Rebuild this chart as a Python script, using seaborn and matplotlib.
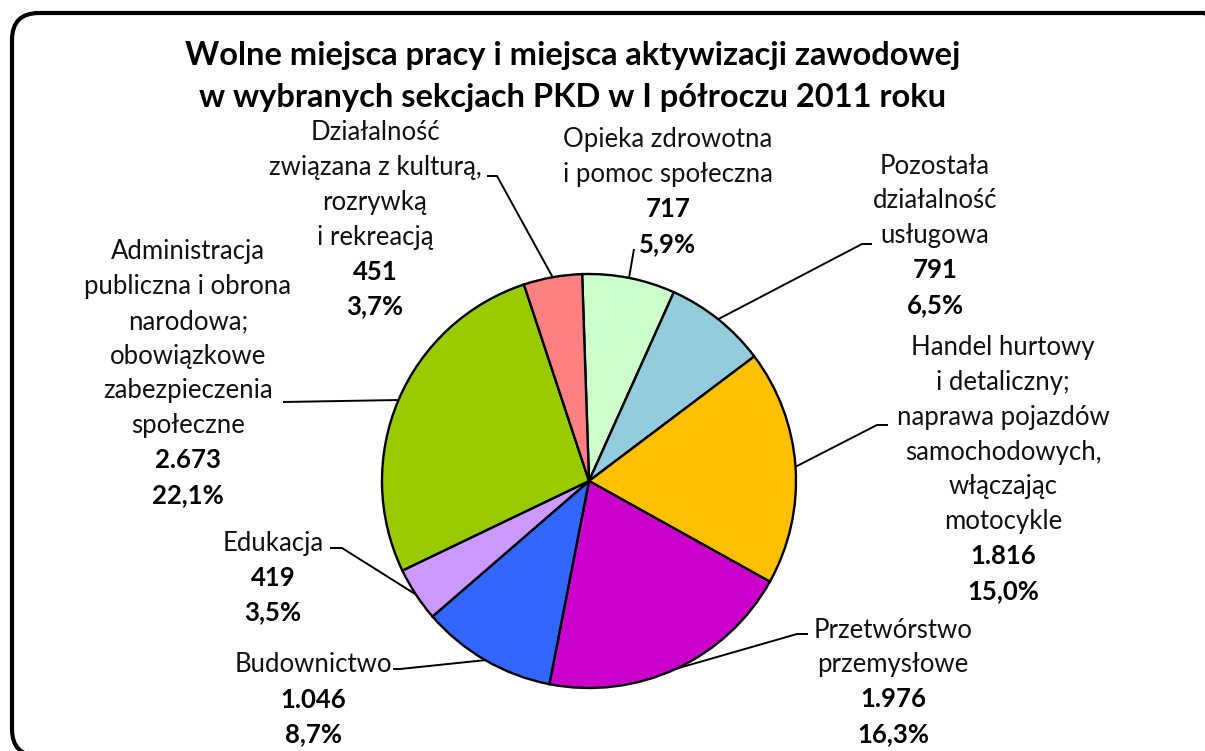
import numpy as np
import matplotlib
matplotlib.use("Agg")
import matplotlib.pyplot as plt
import seaborn as sns
from matplotlib.patches import FancyBboxPatch
from matplotlib.transforms import IdentityTransform

# data (clockwise from the top)
sections = [
    "Opieka zdrowotna\ni pomoc społeczna",
    "Pozostała\ndziałalność\nusługowa",
    "Handel hurtowy\ni detaliczny;\nnaprawa pojazdów\nsamochodowych,\nwłączając\nmotocykle",
    "Przetwórstwo\nprzemysłowe",
    "Budownictwo",
    "Edukacja",
    "Administracja\npubliczna i obrona\nnarodowa;\nobowiązkowe\nzabezpieczenia\nspołeczne",
    "Działalność\nzwiązana z kulturą,\nrozrywką\ni rekreacją",
]
values = [717, 791, 1816, 1976, 1046, 419, 2673, 451]
shares = [5.9, 6.5, 15.0, 16.3, 8.7, 3.5, 22.1, 3.7]
colors = ["#CCFFCC", "#93CDDD", "#FFC000", "#CC00CC",
          "#3366FF", "#CC99FF", "#99CC00", "#FF8080"]

title_lines = ["Wolne miejsca pracy i miejsca aktywizacji zawodowej",
               "w wybranych sekcjach PKD w I półroczu 2011 roku"]

# layout in pixels of the 1205x751 picture
W, H = 1205, 751
CX, CY, R = 589, 481, 207
label_pos = [(668, 140), (935, 166), (1003, 348), (893, 630),
             (313, 665), (273, 543), (188, 252), (375, 133)]
elbows = [(634, 249), (862, 244), (877, 425), (797, 634),
          (400, 669), (342, 548), (283, 402), (497, 176)]
ticks = [None, (872, 244), (888, 425), (808, 634),
         (393, 669), (330, 548), None, (487, 176)]
LINE = 34.7


def px(x, y):
    return (x - CX) / R, (CY - y) / R


sns.set_theme(style="white")
plt.rcParams["font.family"] = ["Lato", "DejaVu Sans"]

fig = plt.figure(figsize=(W / 100, H / 100), dpi=100)
ax = fig.add_axes([0, 0, 1, 1])

wedges, _ = ax.pie(values, colors=colors, startangle=91.9, counterclock=False,
                   radius=1, center=(0, 0),
                   wedgeprops=dict(edgecolor="black", linewidth=1.7))

ax.set_xlim(-CX / R, (W - CX) / R)
ax.set_ylim(-(H - CY) / R, CY / R)
ax.set_aspect("equal")
ax.axis("off")

for i, w in enumerate(wedges):
    mid = np.deg2rad((w.theta1 + w.theta2) / 2)
    sx, sy = np.cos(mid), np.sin(mid)
    ex, ey = px(*elbows[i])
    xs, ys = [sx, ex], [sy, ey]
    if ticks[i] is not None:
        tx, ty = px(*ticks[i])
        xs.append(tx)
        ys.append(ty)
    ax.plot(xs, ys, color="black", lw=1.4, solid_capstyle="butt")

    lines = sections[i].split("\n")
    num = f"{values[i]:,}".replace(",", ".")
    pct = f"{shares[i]:.1f}%".replace(".", ",")
    x0, y0 = label_pos[i]
    k = 0
    for ln in lines:
        ax.text(*px(x0, y0 + k * LINE), ln, ha="center", va="center",
                fontsize=18.5, color="#111111")
        k += 1
    for ln in (num, pct):
        ax.text(*px(x0, y0 + k * LINE), ln, ha="center", va="center",
                fontsize=18.5, fontweight="bold", color="black")
        k += 1

for t, ty in zip(title_lines, [55, 97]):
    fig.text(573 / W, 1 - ty / H, t, ha="center", va="center",
             fontsize=23.5, fontweight="bold", color="black")

# rounded outer frame, in display pixels (origin bottom-left)
frame = FancyBboxPatch((12, H - 756), 1219, 743,
                       boxstyle="round,pad=0,rounding_size=27",
                       facecolor="none", edgecolor="black", lw=3.0,
                       transform=IdentityTransform(), clip_on=False)
fig.patches.append(frame)

fig.savefig("out.png", dpi=100, facecolor="white")
